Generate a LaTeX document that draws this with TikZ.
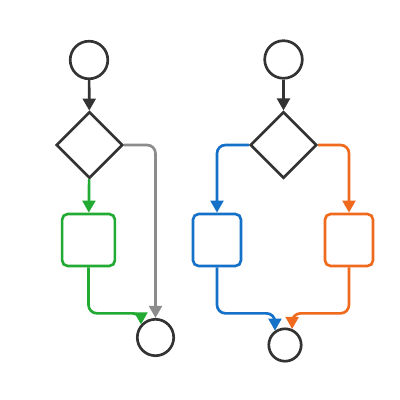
\documentclass[tikz,border=0pt]{standalone}
\usepackage{tikz}
\usetikzlibrary{shapes, arrows.meta}
\usepackage{xcolor}

\definecolor{darkline}{HTML}{333333}
\definecolor{flowgreen}{HTML}{22AA33}
\definecolor{flowgray}{HTML}{8C8C8C}
\definecolor{flowblue}{HTML}{1570C8}
\definecolor{floworange}{HTML}{F06A1E}

\begin{document}
\begin{tikzpicture}[x=0.025cm, y=-0.025cm, line width=1.9pt,
        flow/.style={-{Triangle[length=0.3cm, width=0.32cm]}, rounded corners=6pt},
        terminal/.style={circle, draw=darkline, inner sep=0pt},
        decision/.style={diamond, draw=darkline, aspect=1, inner sep=0pt, minimum size=1.66cm},
        task/.style={rectangle, rounded corners=4pt, inner sep=0pt, minimum height=1.3cm}]
        \useasboundingbox (0,0) rectangle (400,400); % keep the square frame

        % left flow: one branch with a skip
        \node[terminal, minimum size=0.94cm] (start1) at (89,60) {}; % start
        \node[decision] (gate1) at (89.5,145) {}; % decision
        \node[task, draw=flowgreen, minimum width=1.32cm] (green1) at (88.5,240) {}; % green step
        \node[terminal, minimum size=0.91cm] (stop1) at (155.5,337.5) {}; % end

        \draw[flow, darkline] (start1) -- (gate1); % into the decision
        \draw[flow, flowgreen] (gate1) -- (green1); % yes branch
        \draw[flow, flowgray] (gate1.east) -| (stop1.north); % skip branch
        \draw[flow, flowgreen] (green1.south) -- ++(0,46) -| (stop1.138); % back to the end

        % right flow: two branches that join again
        \node[terminal, minimum size=0.94cm] (start2) at (283.5,59.5) {}; % start
        \node[decision] (gate2) at (283.5,145) {}; % decision
        \node[task, draw=flowblue, minimum width=1.2cm] (blue2) at (217,240) {}; % blue step
        \node[task, draw=floworange, minimum width=1.2cm] (orange2) at (349,240) {}; % orange step
        \node[terminal, minimum size=0.81cm] (stop2) at (285,345) {}; % end

        \draw[flow, darkline] (start2) -- (gate2); % into the decision
        \draw[flow, flowblue] (gate2.west) -| (blue2.north); % left branch
        \draw[flow, floworange] (gate2.east) -| (orange2.north); % right branch
        \draw[flow, flowblue] (blue2.south) -- ++(0,46) -| (stop2.125); % blue join
        \draw[flow, floworange] (orange2.south) -- ++(0,46) -| (stop2.66); % orange join
    \end{tikzpicture}
\end{document}
